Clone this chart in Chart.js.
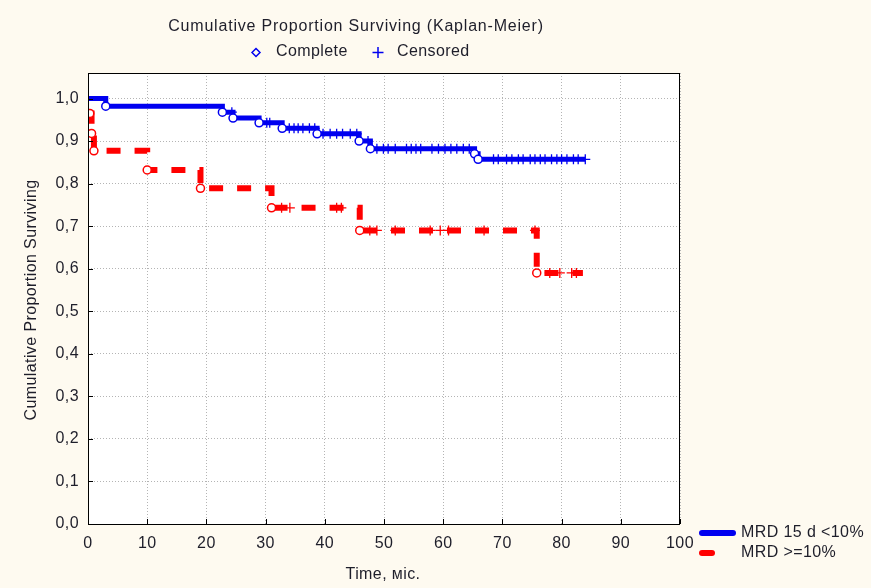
<!DOCTYPE html>
<html>
<head>
<meta charset="utf-8">
<script src="https://cdn.jsdelivr.net/npm/chart.js@4.4.1/dist/chart.umd.min.js"></script>
<style>
  html, body { margin: 0; padding: 0; background: #fefaf0; }
  canvas { display: block; }
</style>
</head>
<body>
<canvas id="grafico" width="871" height="588"></canvas>
<script>
// Datos (meses, proporción)
const xTicks = [0, 10, 20, 30, 40, 50, 60, 70, 80, 90, 100];
const yTicks = [0, 0.1, 0.2, 0.3, 0.4, 0.5, 0.6, 0.7, 0.8, 0.9, 1.0];

// MRD 15 d <10%
const blueEventTimes = [3, 22.7, 24.5, 28.9, 32.8, 38.7, 45.8, 47.7, 65.3, 65.9];
const blueEventSurv = [0.982, 0.968, 0.954, 0.943, 0.930, 0.917, 0.900, 0.882, 0.870, 0.857];
const blueCensored = [24.3, 30.2, 30.7, 34.0, 34.8, 35.5, 36.3, 37.4, 38.3, 39.7, 40.9, 42.0, 43.0,
  44.3, 45.4, 47.3, 48.8, 49.9, 50.7, 51.9, 53.8, 54.6, 55.4, 56.2, 58.1, 59.2, 60.3, 61.3, 62.3,
  63.4, 64.4, 68.5, 69.3, 70.7, 71.6, 72.7, 73.5, 74.7, 75.5, 76.4, 77.2, 78.3, 79.2, 80.0, 80.9,
  82.0, 82.8, 84.0];
const blueEnd = 84.0;

// MRD >=10%
const redEventTimes = [0.3, 0.6, 1.0, 10.0, 19.0, 31.0, 45.9, 75.8];
const redEventSurv = [0.965, 0.918, 0.877, 0.832, 0.789, 0.743, 0.690, 0.590];
const redCensored = [32.7, 34.1, 42.0, 42.8, 47.6, 48.8, 51.9, 57.8, 59.5, 60.9, 66.9, 75.5,
  78.0, 79.7, 81.7, 82.5];
const redEnd = 83.6;

const AZUL = '#0000f0';
const ROJO = '#ff0000';
const TEXTO = '#1e1e2a';
const FUENTE = '"Liberation Sans", Arial, sans-serif';

// Curva escalonada
function curva(tiempos, surv, fin, inicio) {
    const pts = [{ x: 0, y: inicio }];
    tiempos.forEach((t, i) => pts.push({ x: t, y: surv[i] }));
    pts.push({ x: fin, y: surv[surv.length - 1] });
    return pts;
}

// Nivel de la curva en un tiempo dado (para marcar censurados)
function nivel(tiempos, surv, inicio, t) {
    let s = inicio;
    tiempos.forEach((te, i) => { if (te <= t) s = surv[i]; });
    return s;
}

const eventos = (tiempos, surv) => tiempos.map((t, i) => ({ x: t, y: surv[i] }));
const censurados = (cens, tiempos, surv, inicio) => cens.map(t => ({ x: t, y: nivel(tiempos, surv, inicio, t) }));

// Fondo, marco, marcas y leyendas
const decoracion = {
    id: 'decoracion',
    beforeDraw(chart) {
        const { ctx, chartArea: a } = chart;
        ctx.letterSpacing = '0.4px';
        ctx.save();
        ctx.fillStyle = '#fefaf0';
        ctx.fillRect(0, 0, chart.width, chart.height);
        ctx.fillStyle = '#ffffff';
        ctx.fillRect(a.left, a.top, a.right - a.left, a.bottom - a.top);
        ctx.restore();
    },
    afterDraw(chart) {
        const { ctx, chartArea: a, scales } = chart;
        ctx.save();
        // marco
        ctx.strokeStyle = '#000';
        ctx.lineWidth = 1;
        ctx.strokeRect(a.left + 0.5, a.top + 0.5, a.right - a.left - 1, a.bottom - a.top);
        // marcas hacia dentro
        ctx.beginPath();
        xTicks.forEach(v => {
            const px = Math.round(scales.x.getPixelForValue(v)) + 0.5;
            ctx.moveTo(px, a.bottom);
            ctx.lineTo(px, a.bottom - 5);
        });
        yTicks.forEach(v => {
            const py = Math.round(scales.y.getPixelForValue(v)) + 0.5;
            ctx.moveTo(a.left, py);
            ctx.lineTo(a.left + 5, py);
        });
        ctx.stroke();

        // títulos
        ctx.fillStyle = TEXTO;
        ctx.font = '16px ' + FUENTE;
        ctx.textBaseline = 'middle';
        ctx.textAlign = 'center';
        ctx.letterSpacing = '0.8px';
        ctx.fillText('Cumulative Proportion Surviving (Kaplan-Meier)', 356, 27);
        ctx.letterSpacing = '0.4px';
        ctx.fillText('Time, міс.', 383, 575);

        ctx.save();
        ctx.translate(32, 300);
        ctx.rotate(-Math.PI / 2);
        ctx.fillText('Cumulative Proportion Surviving', 0, 0);
        ctx.restore();

        // leyenda superior
        ctx.textAlign = 'left';
        ctx.fillText('Complete', 276, 52);
        ctx.fillText('Censored', 397, 52);
        ctx.strokeStyle = AZUL;
        ctx.lineWidth = 1.5;
        ctx.beginPath();
        ctx.moveTo(256, 48.5); ctx.lineTo(260, 52.5); ctx.lineTo(256, 56.5); ctx.lineTo(252, 52.5);
        ctx.closePath();
        ctx.stroke();
        ctx.beginPath();
        ctx.moveTo(378, 47); ctx.lineTo(378, 58);
        ctx.moveTo(372.5, 52.5); ctx.lineTo(383.5, 52.5);
        ctx.stroke();

        // leyenda inferior
        ctx.lineCap = 'round';
        ctx.lineWidth = 6;
        ctx.strokeStyle = AZUL;
        ctx.beginPath(); ctx.moveTo(702, 533); ctx.lineTo(733, 533); ctx.stroke();
        ctx.strokeStyle = ROJO;
        ctx.beginPath(); ctx.moveTo(702, 553); ctx.lineTo(712, 553); ctx.stroke();
        ctx.fillStyle = TEXTO;
        ctx.fillText('MRD 15 d <10%', 741, 533);
        ctx.fillText('MRD >=10%', 741, 553);
        ctx.restore();
    }
};

const ctxGrafico = document.getElementById('grafico').getContext('2d');
new Chart(ctxGrafico, {
    type: 'line',
    data: {
        datasets: [
            {
                label: 'blue complete',
                data: eventos(blueEventTimes, blueEventSurv),
                showLine: false,
                pointStyle: 'circle',
                pointRadius: 4,
                pointBorderWidth: 1.5,
                pointBorderColor: AZUL,
                pointBackgroundColor: '#fff',
                order: 0
            },
            {
                label: 'blue censored',
                data: censurados(blueCensored, blueEventTimes, blueEventSurv, 1.0),
                showLine: false,
                pointStyle: 'cross',
                pointRadius: 5,
                pointBorderWidth: 1.3,
                pointBorderColor: AZUL,
                order: 0
            },
            {
                label: 'red complete',
                data: eventos(redEventTimes, redEventSurv),
                showLine: false,
                pointStyle: 'circle',
                pointRadius: 4,
                pointBorderWidth: 1.5,
                pointBorderColor: ROJO,
                pointBackgroundColor: '#fff',
                order: 0
            },
            {
                label: 'red censored',
                data: censurados(redCensored, redEventTimes, redEventSurv, 0.965),
                showLine: false,
                pointStyle: 'cross',
                pointRadius: 5,
                pointBorderWidth: 1.3,
                pointBorderColor: ROJO,
                order: 0
            },
            {
                label: 'MRD 15 d <10%',
                data: curva(blueEventTimes, blueEventSurv, blueEnd, 1.0),
                stepped: true,
                borderColor: AZUL,
                borderWidth: 5,
                pointRadius: 0,
                fill: false,
                order: 1
            },
            {
                label: 'MRD >=10%',
                data: curva(redEventTimes, redEventSurv, redEnd, 0.965),
                stepped: true,
                borderColor: ROJO,
                borderWidth: 6,
                borderDash: [14, 14],
                pointRadius: 0,
                fill: false,
                order: 1
            }
        ]
    },
    options: {
        responsive: false,
        devicePixelRatio: 1,
        animation: false,
        layout: { padding: { top: 73, right: 191, left: 0, bottom: 0 } },
        plugins: {
            legend: { display: false },
            title: { display: false },
            tooltip: { enabled: false }
        },
        scales: {
            x: {
                type: 'linear',
                min: 0,
                max: 100,
                afterFit: s => { s.height = 64; },
                afterBuildTicks: s => { s.ticks = xTicks.map(v => ({ value: v })); },
                grid: {
                    color: '#b4b4b4',
                    lineWidth: 1,
                    drawTicks: false
                },
                border: { display: false, dash: [1, 2] },
                ticks: {
                    padding: 10,
                    color: TEXTO,
                    font: { family: FUENTE, size: 16 },
                    maxRotation: 0,
                    callback: v => String(v)
                }
            },
            y: {
                type: 'linear',
                min: 0,
                max: 1.06,
                afterFit: s => { s.width = 88; },
                afterBuildTicks: s => { s.ticks = yTicks.map(v => ({ value: v })); },
                grid: {
                    color: '#b4b4b4',
                    lineWidth: 1,
                    drawTicks: false
                },
                border: { display: false, dash: [1, 2] },
                ticks: {
                    padding: 9,
                    color: TEXTO,
                    font: { family: FUENTE, size: 16 },
                    callback: v => v.toFixed(1).replace('.', ',')
                }
            }
        }
    },
    plugins: [decoracion]
});
</script>
</body>
</html>
